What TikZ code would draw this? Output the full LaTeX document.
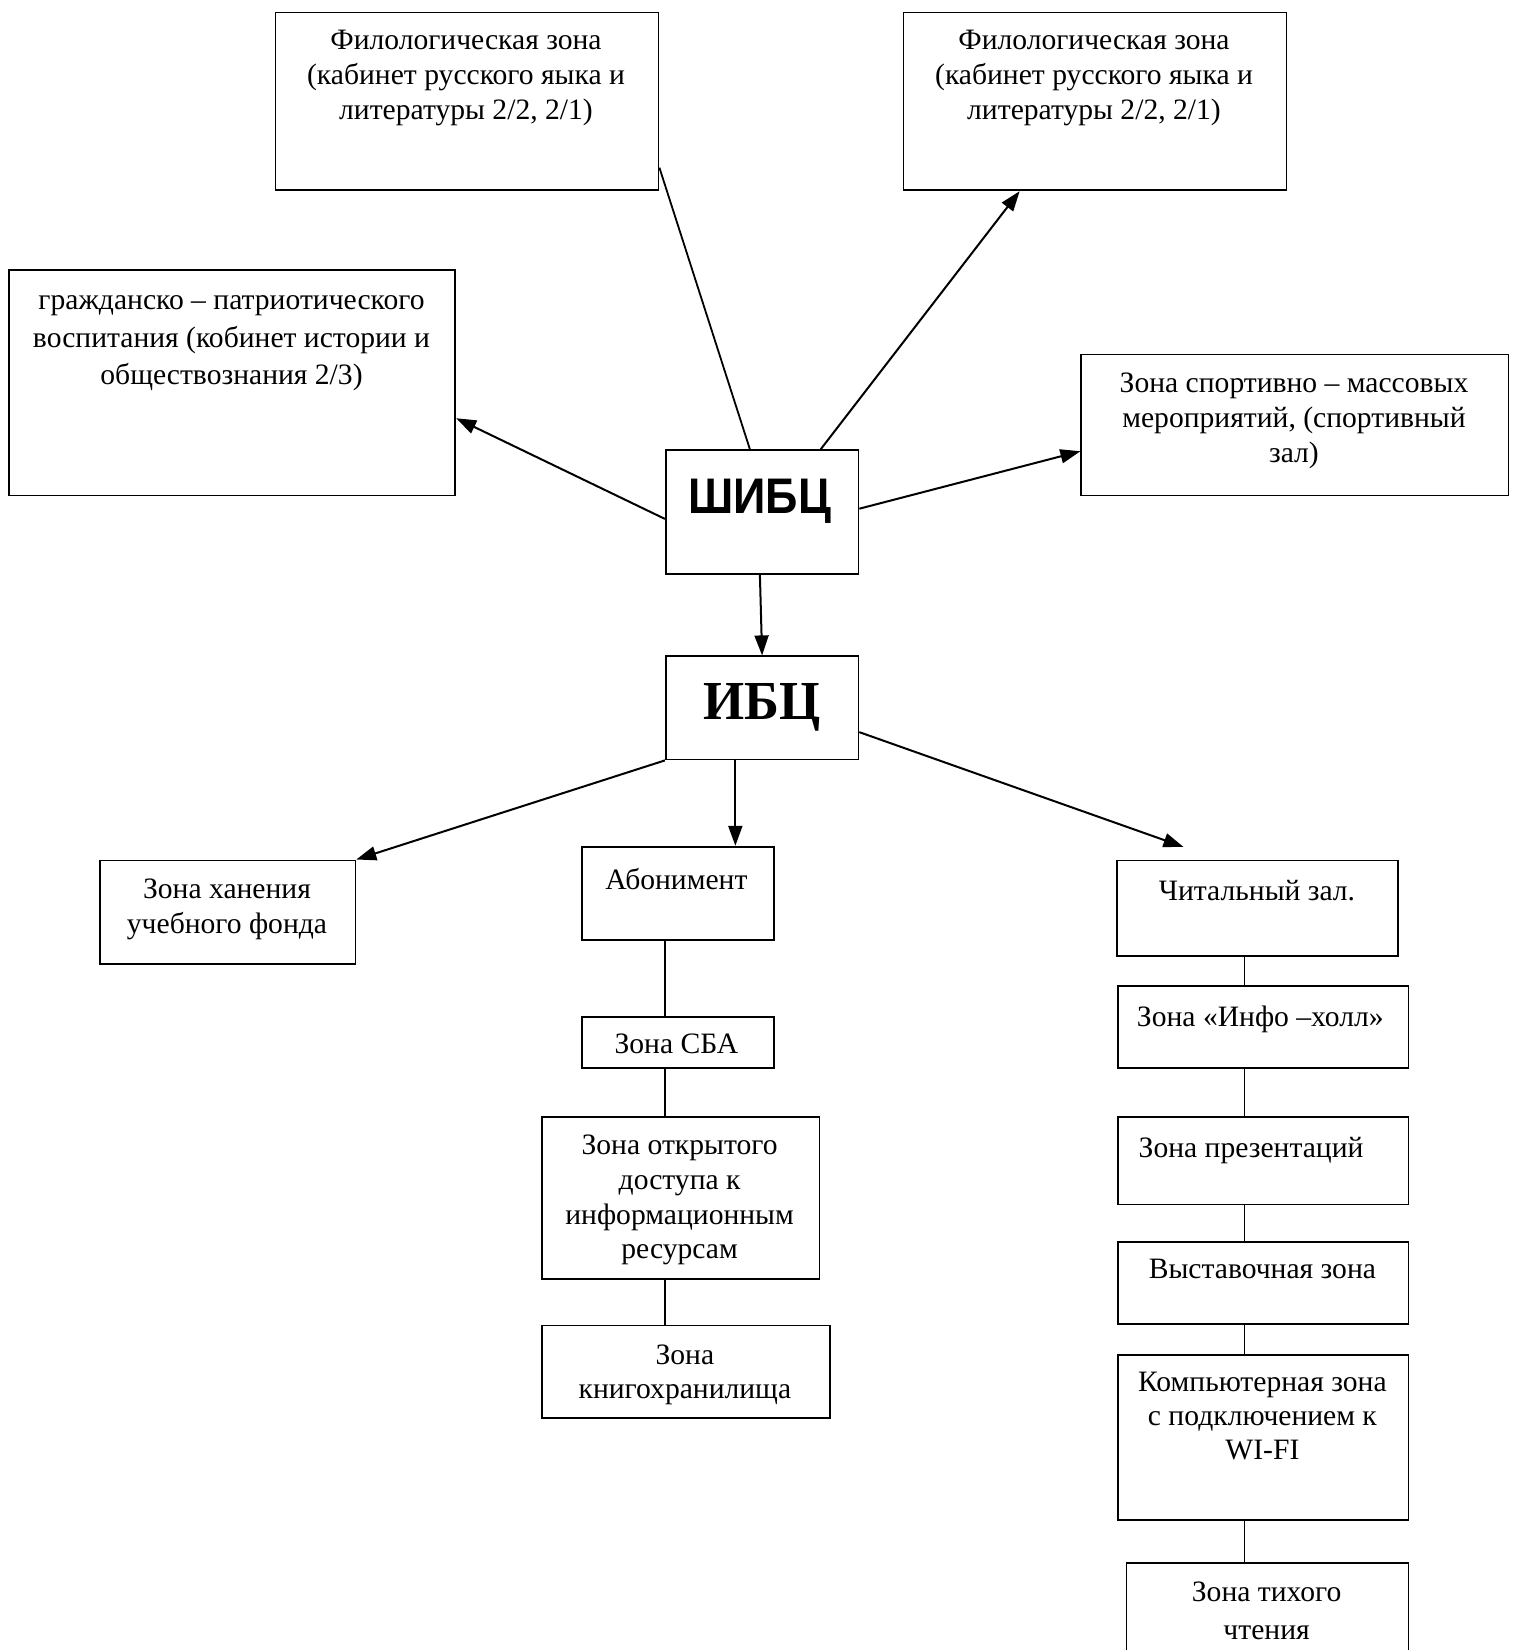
\documentclass[tikz,border=0pt]{standalone}
\usepackage{fontspec}
\setmainfont{Liberation Serif}
\newfontfamily\headfont{Liberation Sans}[FakeStretch=0.9]
\newfontfamily\ibcfont{Liberation Serif}[FakeStretch=0.96]
\usetikzlibrary{arrows.meta}

\begin{document}
\begin{tikzpicture}[x=0.5pt,y=-0.5pt,
    zone/.style={draw,line width=0.9pt,inner sep=0pt,anchor=north west},
    ztext/.style={anchor=north,align=center,inner sep=0pt,font=\fontsize{14.8}{17.4}\selectfont},
    link/.style={line width=1pt,-{Triangle[length=10pt,width=7pt]}},
    tie/.style={line width=0.9pt}]
\clip (0,0) rectangle (1516,1650);
\node[zone,minimum width=191.5pt,minimum height=88.9pt] (fil1) at (274.6,11.6) {};
\node[zone,minimum width=191.5pt,minimum height=88.9pt] (fil2) at (902.6,11.6) {};
\node[zone,minimum width=223pt,minimum height=112.6pt] (grazh) at (8.4,269.3) {};
\node[zone,minimum width=213.6pt,minimum height=70.5pt] (sport) at (1080.4,353.5) {};
\node[zone,minimum width=96.3pt,minimum height=62pt] (shibc) at (664.9,449.2) {};
\node[zone,minimum width=96.3pt,minimum height=51.6pt] (ibc) at (664.9,655.4) {};
\node[zone,minimum width=127.8pt,minimum height=51.6pt] (hran) at (98.9,859.5) {};
\node[zone,minimum width=96.3pt,minimum height=46.8pt] (abon) at (580.7,845.8) {};
\node[zone,minimum width=96.3pt,minimum height=25.3pt] (sba) at (580.7,1016.2) {};
\node[zone,minimum width=138.9pt,minimum height=81pt] (otkr) at (540.7,1116.2) {};
\node[zone,minimum width=144.2pt,minimum height=46.3pt] (kniga) at (540.7,1324.5) {};
\node[zone,minimum width=140.5pt,minimum height=47.9pt] (chit) at (1116.2,859.5) {};
\node[zone,minimum width=145.2pt,minimum height=41pt] (info) at (1117.2,984.7) {};
\node[zone,minimum width=145.2pt,minimum height=43.7pt] (prez) at (1117.2,1116.2) {};
\node[zone,minimum width=145.2pt,minimum height=41pt] (vyst) at (1117.2,1241.4) {};
\node[zone,minimum width=145.2pt,minimum height=82.5pt] (comp) at (1117.2,1354) {};
\node[zone,minimum width=141pt,minimum height=60pt] (tih) at (1125.6,1562.2) {};

\node[ztext] (fil1t) at (466,30) {Филологическая зона\\(кабинет русского яыка и\\литературы 2/2, 2/1)};
\node[ztext] (fil2t) at (1094,30) {Филологическая зона\\(кабинет русского яыка и\\литературы 2/2, 2/1)};
\node[ztext,font=\fontsize{14.8}{18.9}\selectfont] (grazht) at (231.5,295) {гражданско -- патриотического\\воспитания (кобинет истории и\\обществознания 2/3)};
\node[ztext] (sportt) at (1294,372.5) {Зона спортивно -- массовых\\мероприятий, (спортивный\\зал)};
\node[anchor=base,inner sep=0pt,font=\headfont\bfseries\fontsize{25}{25}\selectfont] (shibct) at (759.5,513.4) {ШИБЦ};
\node[anchor=base,inner sep=0pt,font=\ibcfont\bfseries\fontsize{27.5}{27.5}\selectfont] (ibct) at (761.7,719.6) {ИБЦ};
\node[ztext] (hrant) at (227,878.5) {Зона ханения\\учебного фонда};
\node[ztext] (abont) at (676.4,867.5) {Абонимент};
\node[ztext] (sbat) at (676.4,1033.5) {Зона СБА};
\node[ztext] (otkrt) at (679.6,1134.5) {Зона открытого\\доступа к\\информационным\\ресурсам};
\node[ztext] (knigat) at (684.9,1344) {Зона\\книгохранилища};
\node[ztext] (chitt) at (1257,880) {Читальный зал.};
\node[ztext] (infot) at (1260.3,1005.2) {Зона «Инфо --холл»};
\node[ztext,anchor=north west] (prezt) at (1138.3,1136.5) {Зона презентаций};
\node[ztext] (vystt) at (1262.4,1258.5) {Выставочная зона};
\node[ztext,font=\fontsize{14.8}{17.1}\selectfont] (compt) at (1262.4,1371.5) {Компьютерная зона\\с подключением к\\WI-FI};
\node[ztext,font=\fontsize{14.8}{18.9}\selectfont] (tiht) at (1266.6,1581.5) {Зона тихого\\чтения};

\coordinate (chitin) at (1183.5,846.9);
\coordinate (colA) at (664.9,0);
\coordinate (colB) at (1244.5,0);

\draw[tie] (shibc.101) -- (fil1.341);
\draw[link] (shibc.47) -- (fil2.230);
\draw[link] (shibc.184) -- (grazh.351);
\draw[link] (shibc.2) -- (sport.187);
\draw[link] (shibc.268) -- (ibc.north);
\draw[link] (ibc.south west) -- (hran.north east);
\draw[link] (ibc.243) -- (ibc.243 |- abon.north);
\draw[link] (ibc.346) -- (chitin);

\draw[tie] (abon.south -| colA) -- (sba.north -| colA);
\draw[tie] (sba.south -| colA) -- (otkr.north -| colA);
\draw[tie] (otkr.south -| colA) -- (kniga.north -| colA);
\draw[tie] (chit.south -| colB) -- (info.north -| colB);
\draw[tie] (info.south -| colB) -- (prez.north -| colB);
\draw[tie] (prez.south -| colB) -- (vyst.north -| colB);
\draw[tie] (vyst.south -| colB) -- (comp.north -| colB);
\draw[tie] (comp.south -| colB) -- (tih.north -| colB);
\end{tikzpicture}
\end{document}
